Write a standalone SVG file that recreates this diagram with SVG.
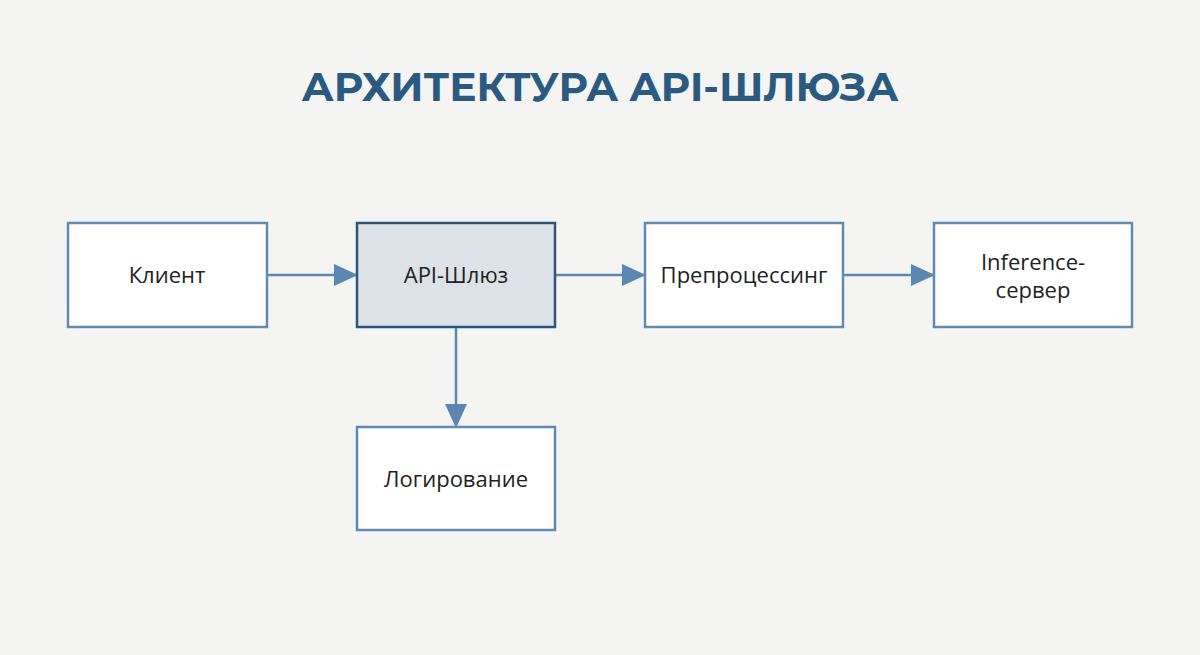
<svg xmlns="http://www.w3.org/2000/svg" width="1200" height="655" viewBox="0 0 1200 655">
<style>
.n{fill:#fff;stroke:#5f8ab4;stroke-width:2.5}
.h{fill:#dde2e8;stroke:#2d557a;stroke-width:2.5}
.t{font-family:"Open Sans","Liberation Sans",sans-serif;font-size:22px;fill:#222;text-anchor:middle}
.c{stroke:#5b87b0;stroke-width:2.5;fill:none;marker-end:url(#b)}
</style>
<defs>
<marker id="b" markerWidth="24" markerHeight="24" refX="22" refY="12" orient="auto" markerUnits="userSpaceOnUse" viewBox="0 0 24 24"><path d="M0,1 L24,12 L0,23 Z" fill="#5b87b0"/></marker></defs>
<rect width="1200" height="655" fill="#f4f4f2"/>
<text x="600" y="101" font-family="Montserrat,'Open Sans','Liberation Sans',sans-serif" font-weight="bold" font-size="40.5" fill="#2b5a80" text-anchor="middle">АРХИТЕКТУРА API-ШЛЮЗА</text>
<g id="connectors">
<path d="M267,275 H356" class="c"/>
<path d="M555,275 H644" class="c"/>
<path d="M843,275 H933" class="c"/>
<path d="M456,327 V426" class="c"/>
</g>
<g id="client"><rect x="68" y="223" width="199" height="104" class="n"/><text x="167" y="283" class="t">Клиент</text></g>
<g id="gateway"><rect x="357" y="223" width="198" height="104" class="h"/><text x="456" y="283" class="t">API-Шлюз</text></g>
<g id="prep"><rect x="645" y="223" width="198" height="104" class="n"/><text x="744" y="283" class="t">Препроцессинг</text></g>
<g id="inference"><rect x="934" y="223" width="198" height="104" class="n"/><text x="1033" y="270" class="t">Inference-</text><text x="1033" y="298" class="t">сервер</text></g>
<g id="log"><rect x="357" y="427" width="198" height="103" class="n"/><text x="456" y="487" class="t">Логирование</text></g>
</svg>
